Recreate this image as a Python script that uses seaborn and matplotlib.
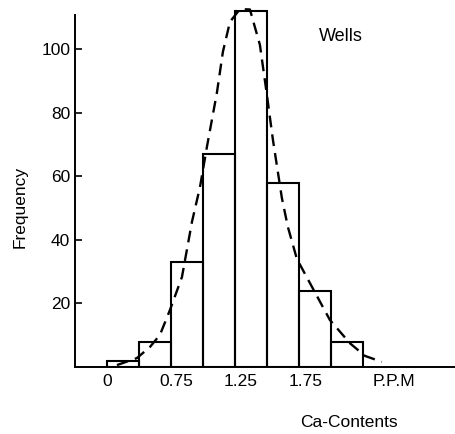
import matplotlib
matplotlib.use("Agg")
import matplotlib.pyplot as plt
import seaborn as sns
import numpy as np

# Data
bin_left = [0.25, 0.50, 0.75, 1.00, 1.25, 1.50, 1.75, 2.00]   # bin left edges (ppm)
bin_width = 0.25
frequency = [2, 8, 33, 67, 112, 58, 24, 8]

curve_x = [0.328, 0.484, 0.586, 0.664, 0.742, 0.836, 0.914, 0.977, 1.031, 1.109,
           1.156, 1.211, 1.289, 1.367, 1.445, 1.500, 1.547, 1.617, 1.664, 1.734,
           1.852, 1.992, 2.148, 2.266, 2.398]
curve_y = [0.6, 2.8, 6.3, 10.1, 17.9, 28.3, 45.6, 56.6, 69.2, 86.2,
           99.1, 108.5, 112.5, 112.4, 101.3, 85.5, 71.4, 53.1, 44.0, 34.0,
           25.2, 14.8, 7.5, 3.5, 1.6]

y_ticks = [20, 40, 60, 80, 100]
x_tick_labels = ["0", "0.75", "1.25", "1.75"]
x_tick_pos = [0.25, 0.789, 1.297, 1.805]
unit_label = "P.P.M"
unit_pos = 2.49

sns.set_style("ticks")
plt.rcParams['font.family'] = ['Liberation Sans', 'DejaVu Sans']
plt.rcParams['text.color'] = 'black'
plt.rcParams['axes.labelcolor'] = 'black'
plt.rcParams['xtick.color'] = 'black'
plt.rcParams['ytick.color'] = 'black'
plt.rcParams['axes.edgecolor'] = 'black'

fig = plt.figure(figsize=(4.55, 4.34), dpi=100)
ax = fig.add_axes([75/455, (434-367)/434, 380/455, 362/434])

centers = [b + bin_width/2 for b in bin_left]
edges = bin_left + [bin_left[-1] + bin_width]
sns.histplot(x=centers, weights=frequency, bins=edges, fill=False,
             color="black", linewidth=1.5, element="bars", ax=ax)
sns.lineplot(x=curve_x, y=curve_y, color="black", linewidth=1.7,
             linestyle=(0, (5, 3)), ax=ax, sort=False)

ax.set_xlim(0.0, 2.97)
ax.set_ylim(0, 113.8)

ax.spines['top'].set_visible(False)
ax.spines['right'].set_visible(False)
ax.spines['left'].set_bounds(0, 110.7)
ax.spines['left'].set_linewidth(1.4)
ax.spines['bottom'].set_linewidth(1.4)

ax.set_yticks(y_ticks)
ax.set_yticklabels([str(t) for t in y_ticks], fontsize=12.5)
ax.tick_params(axis='y', direction='in', length=5, width=1.2, pad=3.5)

ax.set_xticks(x_tick_pos + [unit_pos])
ax.set_xticklabels(x_tick_labels + [unit_label], fontsize=12.5)
ax.tick_params(axis='x', length=0, pad=5)
ax.set_xticks([unit_pos], minor=True)
ax.tick_params(axis='x', which='minor', direction='in', length=5, width=1.2)

ax.set_ylabel("Frequency", fontsize=12.5)
ax.yaxis.set_label_coords(-0.124, 0.442)
ax.set_xlabel("Ca-Contents", fontsize=12.5)
ax.xaxis.set_label_coords(0.721, -0.1326)

ax.text(2.078, 103.8, "Wells", fontsize=13, ha="center", va="center")

fig.savefig("out.png", dpi=100)
